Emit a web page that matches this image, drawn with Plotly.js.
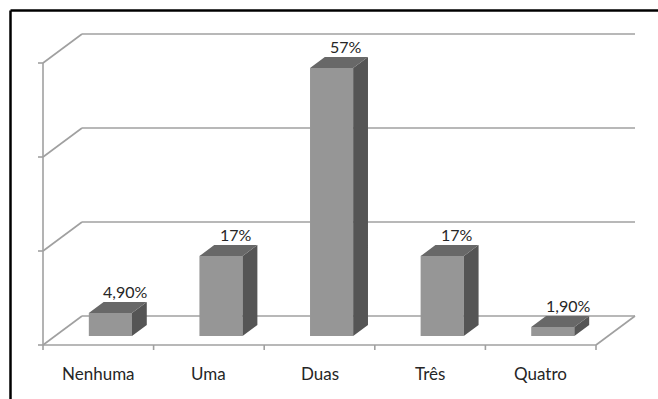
<!DOCTYPE html>
<html>
<head>
<meta charset="utf-8">
<script src="https://cdn.plot.ly/plotly-3.0.1.min.js"></script>
<style>
  html, body { margin: 0; padding: 0; background: #ffffff; }
  #chart { width: 658px; height: 399px; }
</style>
</head>
<body>
<div id="chart"></div>
<script>
// Number of children per household (share of respondents)
const categories = ['Nenhuma', 'Uma', 'Duas', 'Três', 'Quatro'];
const shares = [4.9, 17, 57, 17, 1.9];
const shareLabels = ['4,90%', '17%', '57%', '17%', '1,90%'];
const gridLevels = [0, 20, 40, 60];

// Page and oblique-projection geometry (pixels)
const W = 658, H = 399;
const ORIGIN_X = 43, ORIGIN_Y = 345;   // front-left corner of the floor
const CAT_PX = 110.6;                  // width of one category slot
const PCT_PX = 4.7;                    // pixels per percentage point
const DEPTH_X = 39, DEPTH_Y = 29;      // front-to-back offset of the floor
const DX = DEPTH_X / CAT_PX;           // depth offset in data units
const DY = DEPTH_Y / PCT_PX;
const BAR_W = 0.39;                    // bar width (category units)
const D_FRONT = 0.31, D_BACK = 0.69;   // bar depth span (fraction of floor)

// project (category x, value v, depth d) into the 2D axes
function P(x, v, d) { return [x + d * DX, v + d * DY]; }

const xr = [-ORIGIN_X / CAT_PX, (W - ORIGIN_X) / CAT_PX];
const yr = [-(H - ORIGIN_Y) / PCT_PX, ORIGIN_Y / PCT_PX];
const nCat = categories.length;
const topLevel = gridLevels[gridLevels.length - 1];

// walls, floor and axis lines
const lineStyle = { color: '#a0a0a0', width: 1.6 };
const shapes = [];
function seg(a, b) {
  shapes.push({ type: 'line', xref: 'x', yref: 'y', layer: 'below',
    x0: a[0], y0: a[1], x1: b[0], y1: b[1], line: lineStyle });
}
gridLevels.forEach(v => {
  seg(P(0, v, 0), P(0, v, 1));            // left side wall
  seg(P(0, v, 1), P(nCat, v, 1));         // back wall
  seg([-5 / CAT_PX, v], [0, v]);           // value-axis tick
});
seg(P(0, 0, 0), P(0, topLevel, 0));       // value axis
seg(P(0, 0, 0), P(nCat, 0, 0));           // front edge of floor
seg(P(nCat, 0, 0), P(nCat, 0, 1));        // right edge of floor
for (let i = 0; i <= nCat; i++) {
  seg([i, 0], [i, -5 / PCT_PX]);           // category ticks
}

// chart frame (left and top edges)
const fx = 10.5 / W, fy = 1 - 10.5 / H;
shapes.push({ type: 'line', xref: 'paper', yref: 'paper', x0: fx, y0: fy, x1: fx, y1: -0.05,
  line: { color: '#000000', width: 2.5 } });
shapes.push({ type: 'line', xref: 'paper', yref: 'paper', x0: fx, y0: fy, x1: 1.05, y1: fy,
  line: { color: '#000000', width: 2.5 } });

// front faces of the bars
const front = {
  type: 'bar',
  x: categories.map((c, i) => i + 0.5 + D_FRONT * DX),
  y: shares,
  base: shares.map(() => D_FRONT * DY),
  width: BAR_W,
  marker: { color: '#969696', line: { width: 0 } },
  hoverinfo: 'skip'
};

// top and right-side faces
const topX = [], topY = [], sideX = [], sideY = [];
shares.forEach((h, i) => {
  const x0 = i + 0.5 - BAR_W / 2, x1 = i + 0.5 + BAR_W / 2;
  [P(x0, h, D_FRONT), P(x1, h, D_FRONT), P(x1, h, D_BACK), P(x0, h, D_BACK), P(x0, h, D_FRONT)]
    .forEach(p => { topX.push(p[0]); topY.push(p[1]); });
  topX.push(null); topY.push(null);
  [P(x1, 0, D_FRONT), P(x1, 0, D_BACK), P(x1, h, D_BACK), P(x1, h, D_FRONT), P(x1, 0, D_FRONT)]
    .forEach(p => { sideX.push(p[0]); sideY.push(p[1]); });
  sideX.push(null); sideY.push(null);
});
const sides = { type: 'scatter', mode: 'lines', x: sideX, y: sideY, fill: 'toself',
  fillcolor: '#555555', line: { width: 0, color: '#555555' }, hoverinfo: 'skip' };
const tops = { type: 'scatter', mode: 'lines', x: topX, y: topY, fill: 'toself',
  fillcolor: '#686868', line: { width: 0, color: '#686868' }, hoverinfo: 'skip' };

// value labels above each bar, category labels under the floor
const annotations = [];
shares.forEach((h, i) => {
  const p = P(i + 0.5, h, D_BACK);
  annotations.push({ x: p[0], y: p[1], xref: 'x', yref: 'y', text: shareLabels[i],
    showarrow: false, xanchor: 'center', yanchor: 'bottom', yshift: -1,
    font: { family: 'Lato, sans-serif', size: 16, color: '#262626' } });
});
categories.forEach((c, i) => {
  annotations.push({ x: i + 0.5, y: 0, xref: 'x', yref: 'y', text: c,
    showarrow: false, xanchor: 'center', yanchor: 'middle', yshift: -28,
    font: { family: 'Lato, sans-serif', size: 17, color: '#262626' } });
});

const layout = {
  width: W, height: H,
  margin: { l: 0, r: 0, t: 0, b: 0 },
  paper_bgcolor: '#ffffff', plot_bgcolor: '#ffffff',
  showlegend: false,
  xaxis: { type: 'linear', range: xr, visible: false, fixedrange: true },
  yaxis: { type: 'linear', range: yr, visible: false, fixedrange: true },
  shapes: shapes,
  annotations: annotations
};

Plotly.newPlot('chart', [front, sides, tops], layout, { displayModeBar: false, staticPlot: true });
</script>
</body>
</html>
